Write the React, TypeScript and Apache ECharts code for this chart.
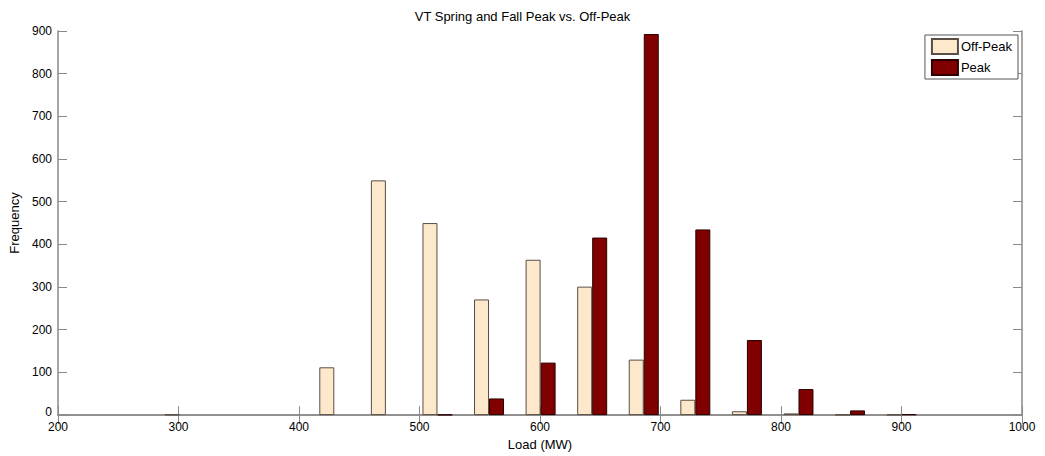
import React, { useEffect, useRef } from "react";
import * as echarts from "echarts";

// Histogram bin centres (MW) shared by both series
const binCenters = [300.9, 343.7, 386.5, 429.3, 472.1, 514.9, 557.7, 600.5, 643.3, 686.1, 728.9, 771.7, 814.5, 857.3, 900.1];
// Counts per bin
const offPeakCounts = [1, 0, 0, 112, 550, 450, 271, 364, 301, 130, 36, 9, 4, 1, 1];
const peakCounts = [0, 0, 0, 0, 0, 1, 39, 123, 416, 893, 435, 176, 61, 11, 2];

const xTicks = { min: 200, max: 1000, interval: 100 };
const yTicks = { min: 0, max: 900, interval: 100 };

const FONT = "Liberation Sans, Arial, sans-serif";
const AXIS_COLOR = "#8a8a8a";

// Empty bins are left out so no zero-height outline is drawn
const toPoints = (counts: number[]) =>
  binCenters.map((x, i) => (counts[i] > 0 ? [x, counts[i]] : [x, "-"]));

export default function App() {
  const ref = useRef<HTMLDivElement>(null);

  useEffect(() => {
    if (!ref.current) return;
    const chart = echarts.init(ref.current, undefined, { renderer: "svg" });

    const axisLine = { show: true, lineStyle: { color: AXIS_COLOR, width: 1.5 } };
    const axisTick = { show: true, inside: true, length: 9, lineStyle: { color: AXIS_COLOR, width: 1 } };
    const label = { color: "#000", fontSize: 12, fontFamily: FONT };

    chart.setOption({
      animation: false,
      backgroundColor: "#fff",
      title: {
        text: "VT Spring and Fall Peak vs. Off-Peak",
        left: "center",
        top: 5,
        textStyle: { fontSize: 13, fontWeight: "normal", color: "#000", fontFamily: FONT },
      },
      legend: {
        orient: "vertical",
        right: 27,
        top: 35,
        itemWidth: 26,
        itemHeight: 15,
        itemGap: 4,
        padding: [3, 6, 3, 6],
        backgroundColor: "#fff",
        borderColor: "#555",
        borderWidth: 1,
        borderRadius: 0,
        icon: "rect",
        textStyle: { fontSize: 13, color: "#000", fontFamily: FONT, padding: [0, 0, 0, -2] },
        data: ["Off-Peak", "Peak"],
      },
      grid: { left: 58, right: 23, top: 31, bottom: 37, containLabel: false },
      xAxis: [
        {
          type: "value",
          ...xTicks,
          name: "Load (MW)",
          nameLocation: "middle",
          nameGap: 22,
          nameTextStyle: { fontSize: 13, color: "#000", fontFamily: FONT },
          axisLine,
          axisTick,
          axisLabel: { ...label, margin: 6, formatter: (v: number) => String(v) },
          splitLine: { show: false },
        },
        {
          type: "value",
          position: "top",
          ...xTicks,
          axisLine,
          axisTick,
          axisLabel: { show: false },
          splitLine: { show: false },
        },
      ],
      yAxis: [
        {
          type: "value",
          ...yTicks,
          name: "Frequency",
          nameLocation: "middle",
          nameGap: 33,
          nameTextStyle: { fontSize: 13, color: "#000", fontFamily: FONT },
          axisLine,
          axisTick,
          axisLabel: {
            ...label,
            margin: 6,
            // the zero label sits just above the x-axis "200"
            formatter: (v: number) => (v === 0 ? "{zero|0}" : String(v)),
            rich: { zero: { fontSize: 12, fontFamily: FONT, color: "#000", padding: [0, 0, 7, 0] } },
          },
          splitLine: { show: false },
        },
        {
          type: "value",
          position: "right",
          ...yTicks,
          axisLine,
          axisTick,
          axisLabel: { show: false },
          splitLine: { show: false },
        },
      ],
      series: [
        {
          name: "Off-Peak",
          type: "bar",
          barWidth: 15,
          barGap: "0%",
          data: toPoints(offPeakCounts),
          itemStyle: { color: "#FDE8CB", borderColor: "#5a4e44", borderWidth: 1 },
        },
        {
          name: "Peak",
          type: "bar",
          barWidth: 15,
          barGap: "0%",
          data: toPoints(peakCounts),
          itemStyle: { color: "#800000", borderColor: "#2a0000", borderWidth: 1 },
        },
      ],
    });

    return () => chart.dispose();
  }, []);

  return (
    <div
      ref={ref}
      style={{ position: "fixed", left: 0, top: 0, width: 1045, height: 456 }}
    />
  );
}
